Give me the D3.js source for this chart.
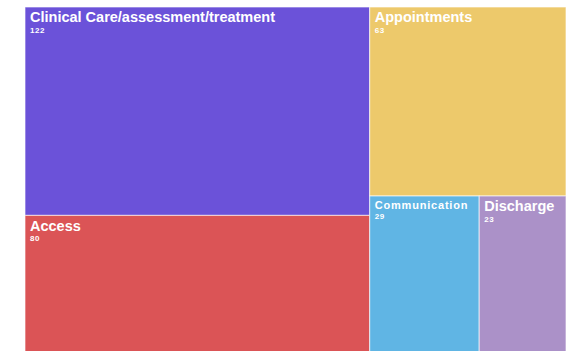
<!DOCTYPE html>
<html>
<head>
<meta charset="utf-8">
<script src="https://cdn.jsdelivr.net/npm/d3@7"></script>
<style>
  html, body { margin: 0; padding: 0; background: #fff; }
  svg { display: block; }
  text { font-family: "Liberation Sans", Arial, Helvetica, sans-serif; fill: #fff; }
</style>
</head>
<body>
<svg id="chart" width="566" height="351"></svg>
<script>
// Complaint categories and their counts
const categories = ["Clinical Care/assessment/treatment", "Access", "Appointments", "Communication", "Discharge"];
const counts = [122, 80, 63, 29, 23];
const colors = ["#6b52d9", "#db5456", "#edc96b", "#60b5e4", "#ab91c8"];
// Grouping of categories into the nested slice/dice layout
const layoutGroups = [[0, 1], [2, [3, 4]]];
// Label sizes: the narrow Communication tile gets a smaller name
const nameSizes = [14.5, 14.5, 14.5, 11, 14.5];
const nameSpacing = [0, 0, 0, 0.8, 0];

const svg = d3.select("#chart");
const x0 = 25, y0 = 7, w = 541, h = 345;

function build(node) {
  if (Array.isArray(node)) return { children: node.map(build) };
  return { idx: node, name: categories[node], value: counts[node] };
}

const root = d3.hierarchy(build(layoutGroups))
  .sum(d => d.value || 0);

d3.treemap()
  .tile(d3.treemapSliceDice)
  .size([w, h])
  .round(false)(root);

const g = svg.append("g").attr("transform", `translate(${x0},${y0})`);

const leaves = g.selectAll("g.leaf")
  .data(root.leaves())
  .join("g")
  .attr("class", "leaf")
  .attr("transform", d => `translate(${d.x0},${d.y0})`);

leaves.append("rect")
  .attr("width", d => d.x1 - d.x0)
  .attr("height", d => d.y1 - d.y0)
  .attr("fill", d => colors[d.data.idx])
  .attr("stroke", "rgba(255,255,255,0.65)")
  .attr("stroke-width", 1);

const small = d => nameSizes[d.data.idx] < 13;

leaves.append("text")
  .attr("x", 5)
  .attr("y", d => small(d) ? 13.2 : 15.2)
  .attr("font-size", d => nameSizes[d.data.idx])
  .attr("letter-spacing", d => nameSpacing[d.data.idx])
  .attr("font-weight", "bold")
  .text(d => d.data.name);

leaves.append("text")
  .attr("x", 5)
  .attr("y", d => small(d) ? 22.9 : 25.6)
  .attr("font-size", 8)
  .attr("letter-spacing", 0.5)
  .attr("font-weight", "bold")
  .text(d => d.data.value);
</script>
</body>
</html>
